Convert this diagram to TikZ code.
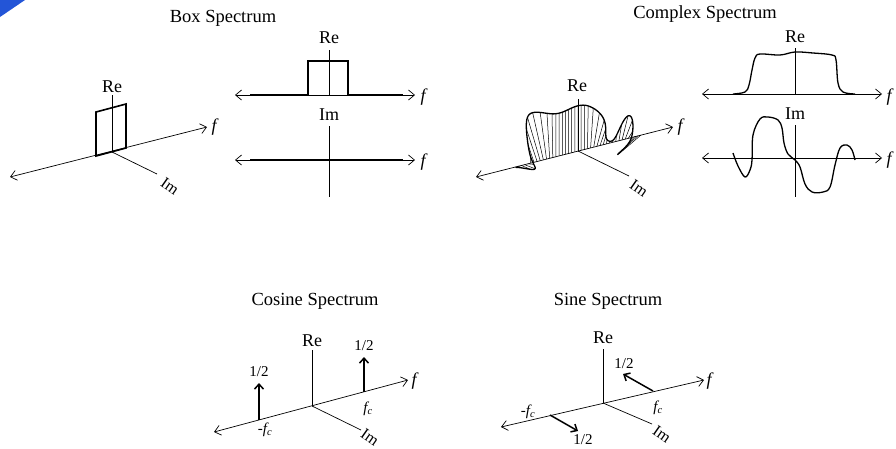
\documentclass[tikz,border=0pt]{standalone}
\usepackage{fontspec}
\setmainfont{Liberation Serif}
\usetikzlibrary{arrows.meta}
\definecolor{cornerblue}{RGB}{35,85,215}
\begin{document}
\begin{tikzpicture}[x=1pt,y=-1pt,
  ax/.style={line width=0.7pt},
  both/.style={ax,{Straight Barb[length=6pt,width=10pt]}-{Straight Barb[length=6pt,width=10pt]}},
  thk/.style={line width=1.6pt, line join=miter},
  curv/.style={line width=1.3pt, line join=round},
  hatch/.style={line width=0.5pt},
  spike/.style={line width=1.5pt,-{Straight Barb[length=5pt,width=9pt]}},
  lbl/.style={inner sep=0pt, font=\fontsize{18}{20}\selectfont},
  iml/.style={inner sep=0pt, rotate=-35, font=\fontsize{16}{18}\selectfont},
  ttl/.style={inner sep=0pt, font=\fontsize{18.5}{20}\selectfont},
  frac/.style={inner sep=0pt, font=\fontsize{15}{17}\selectfont},
  fl/.style={inner sep=0pt, font=\fontsize{18}{20}\selectfont\itshape},
  declare function={
    gs(\x)=exp(-min((\x)*(\x),8));
    sg(\x)=1/(1+exp(max(min(\x,8),-8)));
    cup(\t)=44*sg(-((\t)+0.67)/0.045)*sg(((\t)-0.34)/0.05)*(1+0.03*cos(600*(\t)))
            +27*gs(((\t)-0.71)/0.09)-30*gs(((\t)-1)/0.11);
    cside(\t)=12*gs(((\t)+0.86)/0.09)-14*gs(((\t)+0.6)/0.12)+8*gs(((\t)-0.3)/0.1)
            +8*gs(((\t)-0.74)/0.09)-25*gs(((\t)-1)/0.1);
  }
]
\useasboundingbox (0,0) rectangle (896,448);
\fill[cornerblue] (0,0) -- (25,0) -- (0,17) -- cycle;

% titles
\node[ttl] (t1) at (223,18) {Box Spectrum};
\node[ttl] (t2) at (705,14) {Complex Spectrum};
\node[ttl] (t3) at (315,301) {Cosine Spectrum};
\node[ttl] (t4) at (608,301) {Sine Spectrum};

% ---- Box spectrum 3D
\coordinate (bO) at (112,152);
\coordinate (bL) at (10,177);
\coordinate (bR) at (207,127);
\coordinate (bIm) at (157,174);
\coordinate (bReT) at (112,95);
\draw[both] (bL) -- (bR);
\draw[ax] (bO) -- (bIm);
\draw[ax] (bO) -- (bReT);
\draw[thk] (96,156) -- (96,112) -- (126,104) -- (126,148) -- cycle;
\node[lbl] (bRe) at (112,87) {Re};
\node[iml] (bImL) at (170,186) {Im};
\node[fl] (bf) at (214,127) {f};

% ---- Box spectrum 2D
\coordinate (brL) at (235,95);
\coordinate (brR) at (415,95);
\coordinate (brT) at (329,50);
\coordinate (brO) at (329,95);
\draw[both] (brL) -- (brR);
\draw[ax] (brT) -- (brO);
\draw[thk] (250,95) -- (308,95) -- (308,61) -- (348,61) -- (348,95) -- (403,95);
\node[lbl] (brRe) at (329,38) {Re};
\node[fl] (brf) at (423,97) {f};

\coordinate (biL) at (235,160);
\coordinate (biR) at (415,160);
\coordinate (biT) at (329,126);
\coordinate (biB) at (329,197);
\draw[both] (biL) -- (biR);
\draw[ax] (biT) -- (biB);
\draw[thk] (250,160) -- (403,160);
\node[lbl] (biIm) at (329,115) {Im};
\node[fl] (bif) at (423,162) {f};

% ---- Complex spectrum 3D
\coordinate (cO) at (578,151);
\coordinate (cL) at (476,177);
\coordinate (cR) at (673,127);
\coordinate (cIm) at (629,176);
\coordinate (cReT) at (578,99);
\draw[both] (cL) -- (cR);
\draw[ax] (cO) -- (cIm);
\draw[ax] (cO) -- (cReT);
\foreach \i in {0,...,40}{
  \pgfmathsetmacro{\t}{-1+\i/20}
  \draw[hatch] ({578+63*\t},{151-16*\t}) --
     ({578+63*\t+0.91*cside(\t)},{151-16*\t-cup(\t)+0.42*cside(\t)});
}
\draw[curv] plot[domain=-1:1, samples=201, variable=\t]
   ({578+63*\t+0.91*cside(\t)},{151-16*\t-cup(\t)+0.42*cside(\t)});
\node[lbl] (cRe) at (577,86) {Re};
\node[iml] (cImL) at (639,188) {Im};
\node[fl] (cf) at (680,127) {f};

% ---- Complex spectrum 2D
\coordinate (crL) at (702,94);
\coordinate (crR) at (882,94);
\coordinate (crT) at (795,48);
\coordinate (crO) at (795,94);
\draw[both] (crL) -- (crR);
\draw[ax] (crT) -- (crO);
\draw[curv] plot[smooth, tension=0.6] coordinates {(733,94) (745,92) (749,85) (752,70) (755,58) (760,54) (780,55) (795,52) (813,53) (832,55) (836,60) (838,83) (843,92) (855,94)};
\node[lbl] (crRe) at (795,37) {Re};
\node[fl] (crf) at (889,97) {f};

\coordinate (ciL) at (702,158);
\coordinate (ciR) at (882,158);
\coordinate (ciT) at (795,125);
\coordinate (ciB) at (795,197);
\draw[both] (ciL) -- (ciR);
\draw[ax] (ciT) -- (ciB);
\draw[curv] plot[smooth, tension=0.6] coordinates {(733,153) (738,166) (745,177) (750,170) (752,160) (753,135) (760,119) (768,117) (778,120) (782,128) (784,143) (788,154) (795,160) (800,167) (805,184) (812,192) (823,192) (830,187) (835,165) (840,148) (847,145) (852,150) (855,160)};
\node[lbl] (ciIm) at (795,114) {Im};
\node[fl] (cif) at (889,160) {f};

% ---- Cosine spectrum
\coordinate (kO) at (312,406);
\coordinate (kL) at (214,432);
\coordinate (kR) at (408,380);
\coordinate (kReT) at (312,350);
\coordinate (kIm) at (361,430);
\coordinate (kp) at (364,392);
\coordinate (kpT) at (364,357);
\coordinate (km) at (259,420);
\coordinate (kmT) at (259,383);
\draw[both] (kL) -- (kR);
\draw[ax] (kO) -- (kReT);
\draw[ax] (kO) -- (kIm);
\draw[spike] (kp) -- (kpT);
\draw[spike] (km) -- (kmT);
\node[lbl] (kRe) at (312,341) {Re};
\node[iml] (kImL) at (370,437) {Im};
\node[fl] (kf) at (414,381) {f};
\node[frac] (kh1) at (364,346) {1/2};
\node[frac] (kh2) at (259,372) {1/2};
\node[frac] (kfc) at (368,409) {\textit{f\textsubscript{c}}};
\node[frac] (kmfc) at (265,430) {-\textit{f\textsubscript{c}}};

% ---- Sine spectrum
\coordinate (sO) at (603,403);
\coordinate (sL) at (501,427);
\coordinate (sR) at (704,380);
\coordinate (sReT) at (603,349);
\coordinate (sIm) at (652,424);
\coordinate (sp) at (653,391);
\coordinate (spT) at (623,374);
\coordinate (sm) at (550,415);
\coordinate (smT) at (578,431);
\draw[both] (sL) -- (sR);
\draw[ax] (sO) -- (sReT);
\draw[ax] (sO) -- (sIm);
\draw[spike] (sp) -- (spT);
\draw[spike] (sm) -- (smT);
\node[lbl] (sRe) at (603,338) {Re};
\node[iml] (sImL) at (662,434) {Im};
\node[fl] (sf) at (709,381) {f};
\node[frac] (sh1) at (624,364) {1/2};
\node[frac] (sh2) at (583,440) {1/2};
\node[frac] (sfc) at (658,408) {\textit{f\textsubscript{c}}};
\node[frac] (smfc) at (528,412) {-\textit{f\textsubscript{c}}};
\end{tikzpicture}
\end{document}
